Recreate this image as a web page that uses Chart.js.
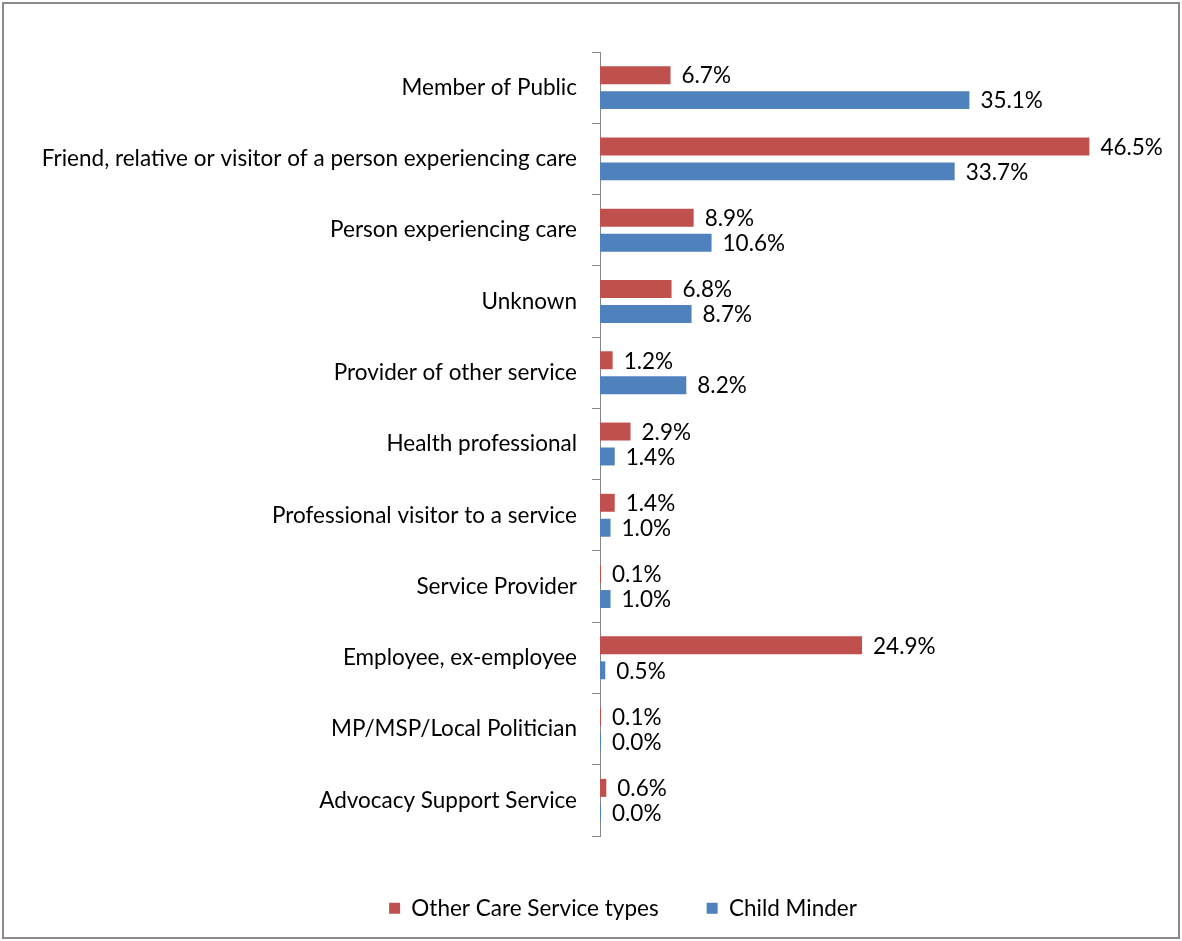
<!DOCTYPE html>
<html>
<head>
<meta charset="utf-8">
<script src="https://cdn.jsdelivr.net/npm/chart.js@4"></script>
<style>
  body { margin: 0; background: #fff; }
  #wrap { width: 1182px; height: 941px; position: relative; }
</style>
</head>
<body>
<div id="wrap"><canvas id="myChart" width="1182" height="941"></canvas></div>
<script>
const categories = [
    "Member of Public",
    "Friend, relative or visitor of a person experiencing care",
    "Person experiencing care",
    "Unknown",
    "Provider of other service",
    "Health professional",
    "Professional visitor to a service",
    "Service Provider",
    "Employee, ex-employee",
    "MP/MSP/Local Politician",
    "Advocacy Support Service"
];
const otherCare = [6.7, 46.5, 8.9, 6.8, 1.2, 2.9, 1.4, 0.1, 24.9, 0.1, 0.6];
const childMinder = [35.1, 33.7, 10.6, 8.7, 8.2, 1.4, 1.0, 1.0, 0.5, 0.0, 0.0];

const labelFont = { family: 'Lato', size: 22.5 };

// percentage text just past the end of every bar
const valueLabels = {
    id: 'valueLabels',
    afterDatasetsDraw(chart) {
        const ctx = chart.ctx;
        ctx.save();
        ctx.font = labelFont.size + 'px ' + labelFont.family;
        ctx.fillStyle = '#000';
        ctx.textAlign = 'left';
        ctx.textBaseline = 'middle';
        chart.data.datasets.forEach((ds, i) => {
            chart.getDatasetMeta(i).data.forEach((bar, j) => {
                ctx.fillText(ds.data[j].toFixed(1) + '%', bar.x + 11, bar.y + 1);
            });
        });
        ctx.restore();
    }
};

// grey frame round the whole chart, legend nudged right
const frame = {
    id: 'frame',
    afterLayout(chart) {
        chart.legend.left += 32;
        chart.legend.right += 32;
    },
    beforeDraw(chart) {
        const ctx = chart.ctx;
        ctx.save();
        ctx.strokeStyle = '#8a8a8a';
        ctx.lineWidth = 2;
        ctx.strokeRect(3, 3, 1176, 935);
        ctx.restore();
    }
};

var ctx = document.getElementById('myChart').getContext('2d');
var chart = new Chart(ctx, {
    type: 'bar',
    data: {
        labels: categories,
        datasets: [{
            label: 'Other Care Service types',
            data: otherCare,
            backgroundColor: '#C0504D',
            categoryPercentage: 0.7,
            barPercentage: 0.72,
            minBarLength: 1
        }, {
            label: 'Child Minder',
            data: childMinder,
            backgroundColor: '#4F81BD',
            categoryPercentage: 0.7,
            barPercentage: 0.72,
            minBarLength: 1
        }]
    },
    options: {
        indexAxis: 'y',
        responsive: false,
        animation: false,
        layout: {
            padding: { top: 52, left: 0, right: 0, bottom: 11.5 }
        },
        scales: {
            x: {
                min: 0,
                max: 55.3,
                ticks: { display: false },
                grid: { display: false },
                border: { display: false },
                afterFit(s) { s.height = 13; }
            },
            y: {
                grid: {
                    drawOnChartArea: false,
                    drawTicks: true,
                    tickLength: 8,
                    color: '#868686'
                },
                border: { color: '#868686', width: 1 },
                ticks: {
                    color: '#000',
                    padding: 15,
                    font: labelFont
                },
                afterFit(s) { s.width = 600; }
            }
        },
        plugins: {
            legend: {
                position: 'bottom',
                labels: {
                    boxWidth: 11,
                    boxHeight: 11,
                    padding: 48,
                    color: '#000',
                    font: labelFont
                }
            },
            tooltip: { enabled: false }
        }
    },
    plugins: [valueLabels, frame]
});
</script>
</body>
</html>
